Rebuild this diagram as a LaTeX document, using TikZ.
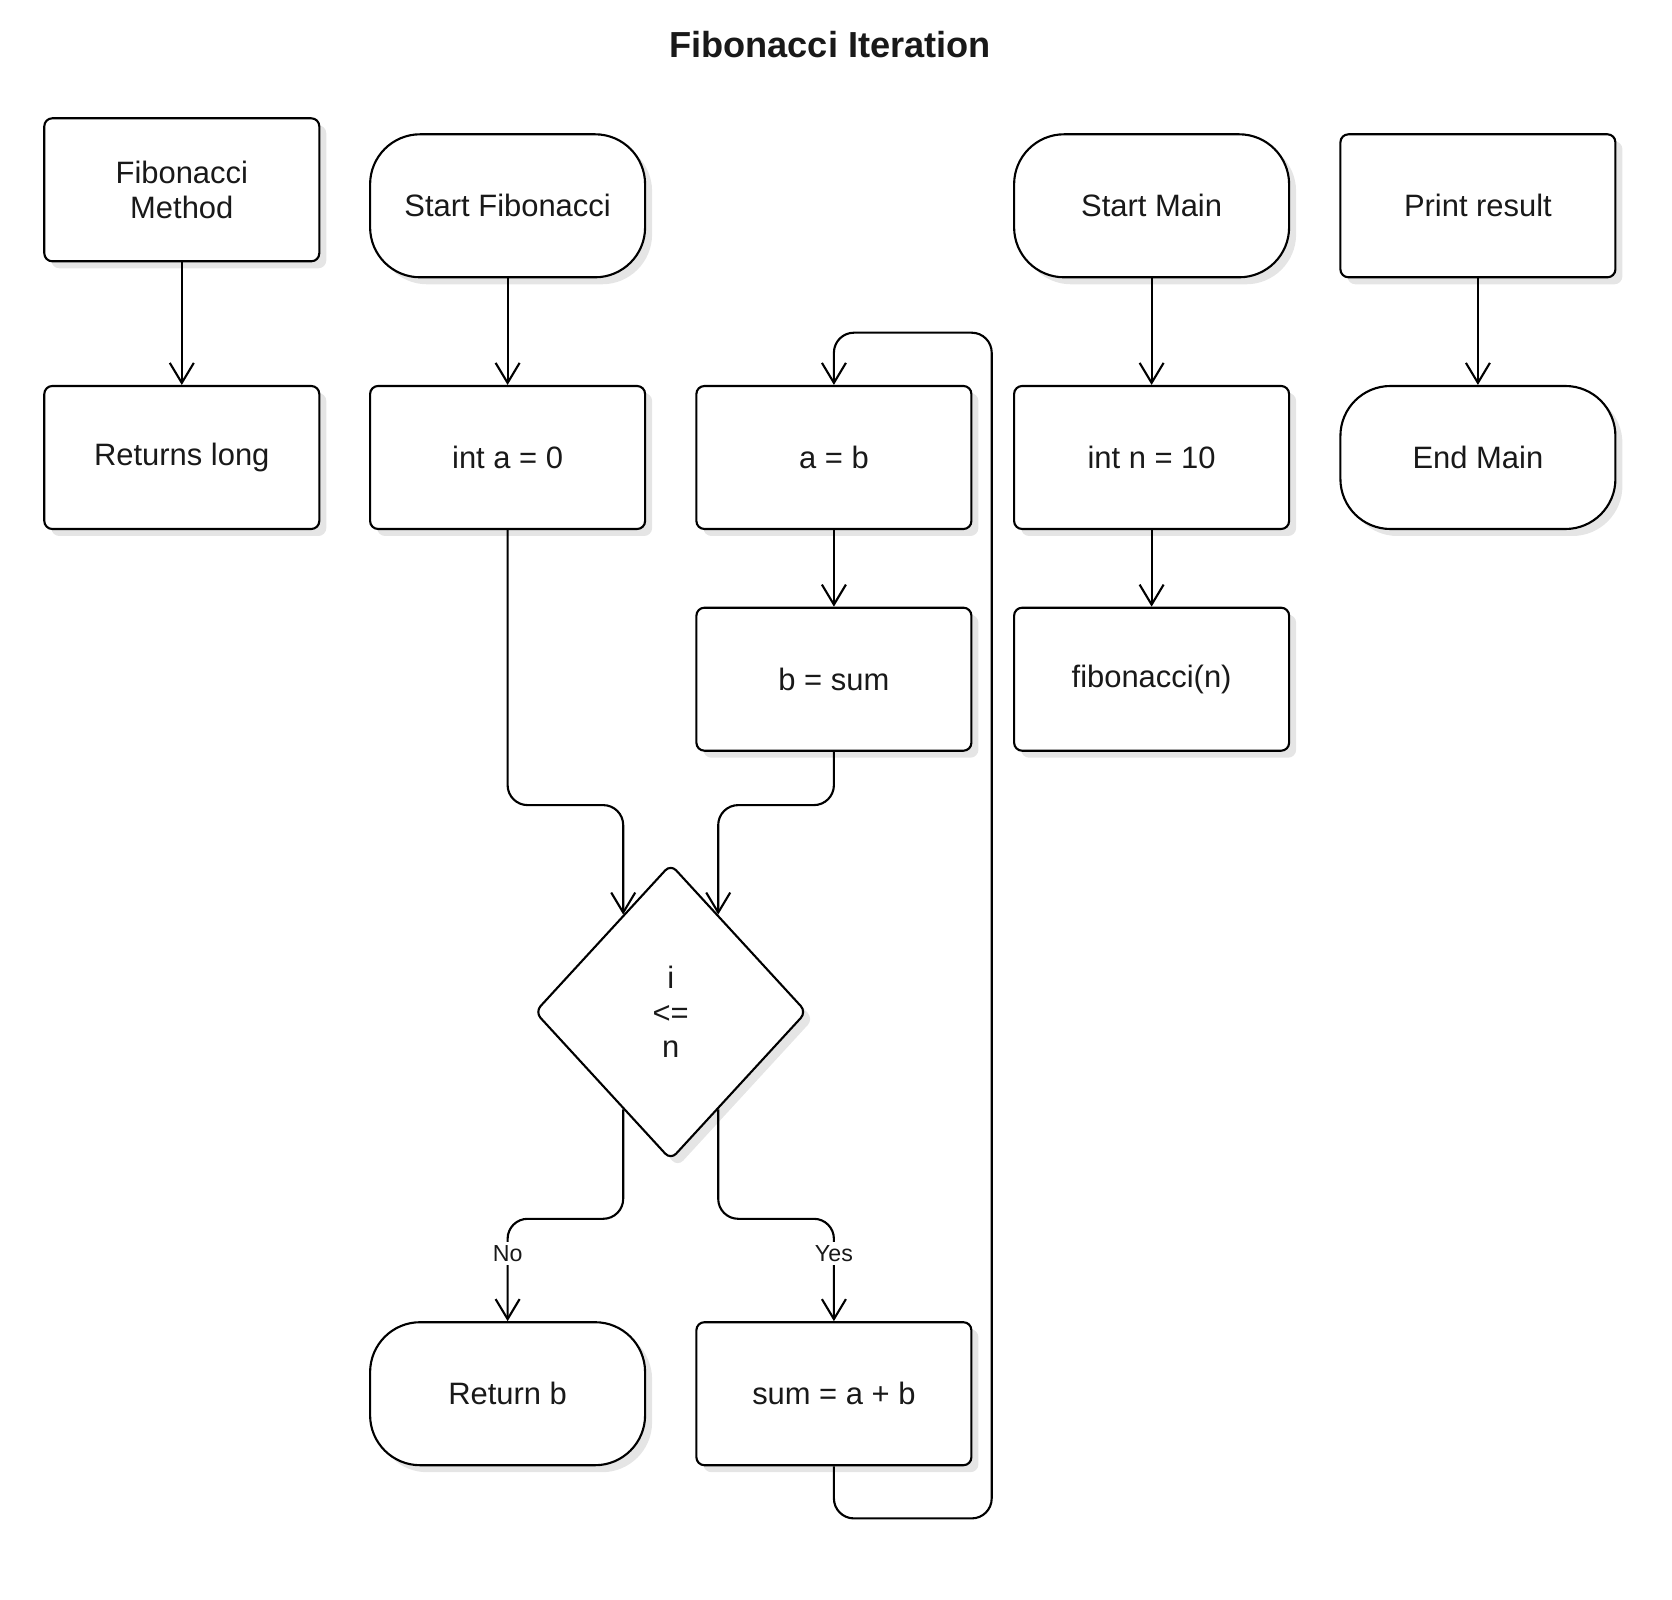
\documentclass[tikz,border=0pt]{standalone}
\usepackage{fontspec}
\setmainfont{Liberation Sans}
\usetikzlibrary{arrows.meta,shapes.geometric,shadows,calc}

\begin{document}
\begin{tikzpicture}[
  x=1cm,y=1cm,
  every node/.style={font=\fontsize{8.8}{9.8}\selectfont, text=black!90},
  dshadow/.style={general shadow={fill=black!10, shadow xshift=0.07cm, shadow yshift=-0.07cm}},
  procbox/.style={draw, line width=0.6pt, fill=white, rounded corners=0.08cm,
    minimum width=2.75cm, minimum height=1.43cm, align=center, inner sep=0pt, dshadow},
  termbox/.style={procbox, rounded corners=0.5cm},
  decbox/.style={draw, diamond, line width=0.6pt, fill=white, rounded corners=0.08cm,
    minimum width=2.72cm, minimum height=2.96cm, inner sep=0pt, align=center, dshadow},
  arr/.style={draw, line width=0.6pt, rounded corners=0.2cm,
    -{Straight Barb[length=0.2cm, width=0.24cm, line width=0.6pt]}},
  lbl/.style={font=\fontsize{6.6}{7.5}\selectfont, fill=white, inner sep=1pt},
]
\useasboundingbox (0,0) rectangle (16.72,-16.0);

% title
\node[font=\bfseries\fontsize{10.3}{12}\selectfont] (title) at (8.30,-0.448) {Fibonacci Iteration};

% nodes
\node[procbox] (fm) at (1.818,-1.898) {Fibonacci\\Method};
\node[procbox] (rl) at (1.818,-4.575) {Returns long};
\node[termbox] (sf) at (5.076,-2.058) {Start Fibonacci};
\node[procbox] (ia) at (5.076,-4.575) {int a = 0};
\node[procbox] (ab) at (8.339,-4.575) {a = b};
\node[procbox] (bs) at (8.339,-6.792) {b = sum};
\node[termbox] (sm) at (11.516,-2.058) {Start Main};
\node[procbox] (in) at (11.516,-4.575) {int n = 10};
\node[procbox] (fn) at (11.516,-6.792) {fibonacci(n)};
\node[procbox] (pr) at (14.779,-2.058) {Print result};
\node[termbox] (em) at (14.779,-4.575) {End Main};
\node[decbox] (d) at (6.707,-10.120) {i\\<=\\n};
\node[termbox] (rb) at (5.076,-13.937) {Return b};
\node[procbox] (sab) at (8.339,-13.937) {sum = a + b};

% routing levels
\coordinate (jt) at (0,-8.051);
\coordinate (jb) at (0,-12.188);
\coordinate (lpb) at (9.917,-15.184);
\coordinate (lpt) at (9.917,-3.327);

% connectors
\draw[arr] (fm.south) -- (rl.north);
\draw[arr] (sf.south) -- (ia.north);
\draw[arr] (sm.south) -- (in.north);
\draw[arr] (in.south) -- (fn.north);
\draw[arr] (pr.south) -- (em.north);
\draw[arr] (ab.south) -- (bs.north);
\draw[arr] (ia.south) |- (jt -| d.116) -- (d.116);
\draw[arr] (bs.south) |- (jt -| d.64) -- (d.64);
\draw[arr] (d.244) |- (jb -| rb.north) -- (rb.north);
\draw[arr] (d.296) |- (jb -| sab.north) -- (sab.north);
\draw[arr] (sab.south) |- (lpb) -- (lpt) -| (ab.north);

% branch labels
\node[lbl] (no) at ($(rb.north)+(0,0.68)$) {No};
\node[lbl] (yes) at ($(sab.north)+(0,0.68)$) {Yes};
\end{tikzpicture}
\end{document}
